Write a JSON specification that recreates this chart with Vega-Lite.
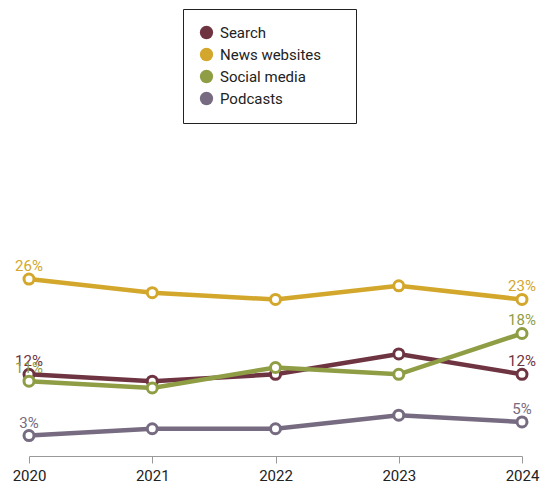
{
  "$schema": "https://vega.github.io/schema/vega-lite/v6.json",
  "width": 493,
  "height": 456,
  "autosize": "none",
  "padding": {"left": 29, "top": 0, "right": 20, "bottom": 30},
  "background": "white",
  "config": {"view": {"stroke": null}, "font": "Roboto"},
  "data": {"values": [
    {"year": "2020", "source": "Podcasts", "value": 3},
    {"year": "2021", "source": "Podcasts", "value": 4},
    {"year": "2022", "source": "Podcasts", "value": 4},
    {"year": "2023", "source": "Podcasts", "value": 6},
    {"year": "2024", "source": "Podcasts", "value": 5},
    {"year": "2020", "source": "Search", "value": 12},
    {"year": "2021", "source": "Search", "value": 11},
    {"year": "2022", "source": "Search", "value": 12},
    {"year": "2023", "source": "Search", "value": 15},
    {"year": "2024", "source": "Search", "value": 12},
    {"year": "2020", "source": "News websites", "value": 26},
    {"year": "2021", "source": "News websites", "value": 24},
    {"year": "2022", "source": "News websites", "value": 23},
    {"year": "2023", "source": "News websites", "value": 25},
    {"year": "2024", "source": "News websites", "value": 23},
    {"year": "2020", "source": "Social media", "value": 11},
    {"year": "2021", "source": "Social media", "value": 10},
    {"year": "2022", "source": "Social media", "value": 13},
    {"year": "2023", "source": "Social media", "value": 12},
    {"year": "2024", "source": "Social media", "value": 18}
  ]},
  "encoding": {
    "x": {"field": "year", "type": "ordinal", "scale": {"type": "point", "padding": 0},
      "axis": {"title": null, "labelAngle": 0, "labelFontSize": 15, "labelColor": "#222", "domainColor": "#999", "tickColor": "#999", "tickSize": 7, "labelPadding": 5, "labelFlush": false, "labelOverlap": false, "grid": false}},
    "y": {"field": "value", "type": "quantitative", "scale": {"domain": [0, 67], "nice": false, "zero": true}, "axis": null},
    "color": {"field": "source", "type": "nominal",
      "scale": {"domain": ["Search", "News websites", "Social media", "Podcasts"], "range": ["#6e3441", "#d3a72b", "#8f9d45", "#766b80"]},
      "legend": null}
  },
  "layer": [
    {"mark": {"type": "line", "strokeWidth": 4.5},
     "encoding": {"color": {"field": "source", "type": "nominal",
        "scale": {"domain": ["Search", "News websites", "Social media", "Podcasts"], "range": ["#6e3441", "#d3a72b", "#8f9d45", "#766b80"]},
        "legend": {"title": null, "orient": "none", "legendX": 154, "legendY": 9, "symbolType": "circle", "symbolSize": 176, "symbolStrokeWidth": 0, "symbolOpacity": 1, "labelFontSize": 15, "labelColor": "#222", "labelLimit": 300, "rowPadding": 6, "padding": 16, "strokeColor": "#222", "labelOffset": 6, "labelExpr": "datum.label + '\u00a0\u00a0\u00a0\u00a0\u00a0\u200b'"}}}},
    {"mark": {"type": "point", "filled": true, "fill": "white", "size": 100, "strokeWidth": 3, "opacity": 1},
     "encoding": {"stroke": {"field": "source", "type": "nominal", "scale": {"domain": ["Search", "News websites", "Social media", "Podcasts"], "range": ["#6e3441", "#d3a72b", "#8f9d45", "#766b80"]}, "legend": null}, "color": {"value": "white"}}},
    {"transform": [{"filter": "datum.year == '2020' || datum.year == '2024'"}, {"calculate": "datum.value + '%'", "as": "label"}],
     "mark": {"type": "text", "dy": -13, "fontSize": 15},
     "encoding": {"text": {"field": "label", "type": "nominal"}}}
  ]
}
